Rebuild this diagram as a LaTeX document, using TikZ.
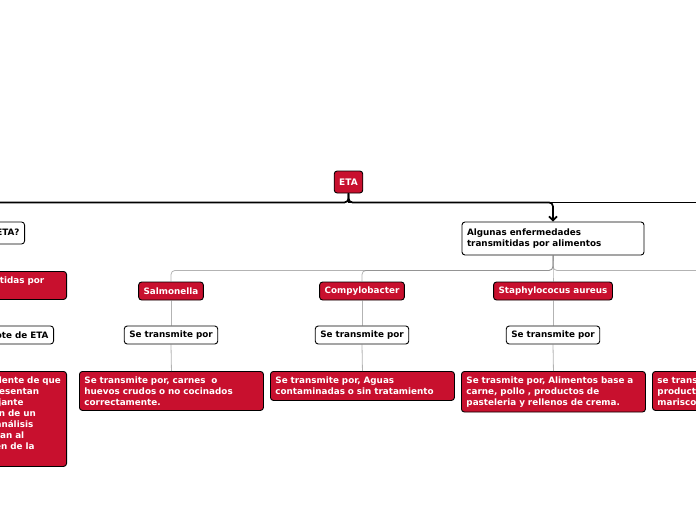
\documentclass[tikz,border=0pt]{standalone}
\usepackage{fontspec}
\setmainfont{DejaVu Sans}
\usetikzlibrary{arrows.meta,calc}
\definecolor{etared}{RGB}{200,16,46}

\begin{document}
\begin{tikzpicture}[x=1pt, y=-1pt,
    redbox/.style={draw=black, fill=etared, text=white, rounded corners=3pt, line width=0.9pt, font=\bfseries\fontsize{8.8}{11}\selectfont, inner xsep=5pt, inner ysep=2pt, minimum height=18pt},
    whitebox/.style={redbox, fill=white, text=black},
    descbox/.style={redbox, text width=174pt, align=left, inner ysep=5pt},
    trunk/.style={line width=1.7pt, black, rounded corners=4pt},
    branch/.style={gray, line width=0.8pt, rounded corners=4pt, opacity=0.6},
]

\useasboundingbox (0,0) rectangle (696,520);
\clip (0,0) rectangle (696,520);

% Central topic
\node[redbox, font=\bfseries\fontsize{9}{11}\selectfont, minimum height=22pt] (eta) at (348.5,182) {ETA};

% Main branches
\node[whitebox, minimum height=22pt, anchor=east] (que) at (25,233) {¿Qué son las ETA?};
\node[whitebox, text width=172pt, align=left, minimum height=33pt] (alg) at (553,238.5) {Algunas enfermedades\\transmitidas por alimentos};
\coordinate (rgt) at ($(eta.south)+(420,9)$);

\draw[trunk, -{Straight Barb[length=4pt,width=8pt]}] (eta.south) -- ++(0,9) -| (que.north);
\draw[trunk, -{Straight Barb[length=4pt,width=8pt]}] (eta.south) -- ++(0,9) -| (alg.north);
\draw[trunk, rounded corners=0pt] (eta.south) |- (rgt);

% Left column
\node[redbox, text width=174pt, align=left, minimum height=28pt, anchor=north east] (enf) at (67,271) {Enfermedades transmitidas por\\alimentos};
\node[whitebox, anchor=east] (brote) at (54,335) {Definición de Brote de ETA};
\node[descbox, minimum height=95pt, anchor=north east] (def) at (67,371) {Se define como el incidente de que\\dos o más personas presentan\\una enfermedad semejante\\después de la ingestión de un\\mismo alimento y los análisis\\epidemiológicos apuntan al\\alimento como el origen de la\\enfermedad.};
\draw[branch] (que.south) -- (enf.north);
\draw[branch] (enf.south) -- (brote.north);
\draw[branch] (brote.south) -- (def.north);

% Foodborne agents
\node[redbox] (salm) at (171,291) {Salmonella};
\node[redbox] (comp) at (362,291) {Compylobacter};
\node[redbox] (staph) at (553,291) {Staphylococus aureus};
\coordinate (v4) at (744,282);

\foreach \c in {salm,comp,staph}
    \draw[branch] (alg.south) -- ++(0,15) -| (\c.north);
\draw[branch] (alg.south) -- ++(0,15) -| (v4);

% Transmission
\foreach \c/\n/\x in {salm/1/171,comp/2/362,staph/3/553}
    \node[whitebox] (trans\n) at (\x,335) {Se transmite por};
\node[whitebox] (trans4) at (744,335) {Se transmite por};

\node[descbox, anchor=north west, minimum height=39pt] (desc1) at (79,371) {Se transmite por, carnes \ o\\huevos crudos o no cocinados\\correctamente.};
\node[descbox, anchor=north west, minimum height=29pt] (desc2) at (270,371) {Se transmite por, Aguas\\contaminadas o sin tratamiento};
\node[descbox, anchor=north west, minimum height=39pt] (desc3) at (461,371) {Se trasmite por, Alimentos base a\\carne, pollo , productos de\\pasteleria y rellenos de crema.};
\node[descbox, anchor=north west, minimum height=39pt] (desc4) at (652,371) {se transmite por,\\productos del mar,\\mariscos crudos.};

\foreach \c/\n in {salm/1,comp/2,staph/3}
    \draw[branch] (\c.south) -- (trans\n.north);
\draw[branch] (v4) -- (trans4.north);
\foreach \n in {1,2,3,4}
    \draw[branch] (trans\n.south) -- (desc\n.north);

\end{tikzpicture}
\end{document}
